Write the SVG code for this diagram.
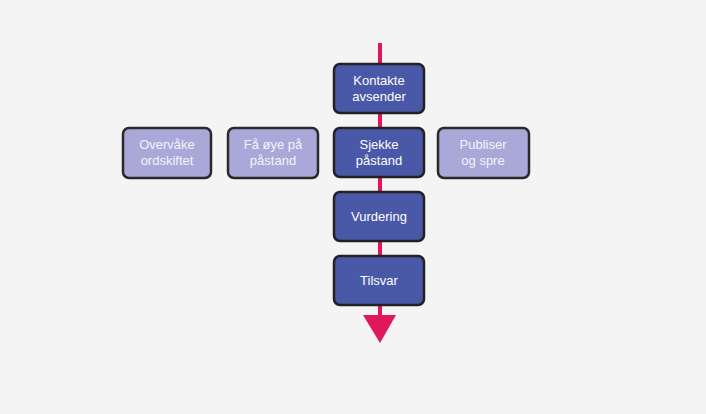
<svg xmlns="http://www.w3.org/2000/svg" width="706" height="414" viewBox="0 0 706 414">
<style>
.bg{fill:#f4f4f4}
.dark{fill:#4a58a8;stroke:#222;stroke-width:2.5}
.light{fill:#a9a8d9;stroke:#2a2a2a;stroke-width:2.5}
.t{font-family:"Liberation Sans",Arial,sans-serif;font-size:13px;fill:#fff;text-anchor:middle}
.lt{fill:#f4f4fa}
.flow{stroke:#e0185a;stroke-width:4;fill:none}
</style>
<rect class="bg" x="0" y="0" width="706" height="414"/>
<g id="connectors">
<line class="flow" x1="380" y1="43" x2="380" y2="316"/>
<polygon points="363,315 396,315 380,343" fill="#e0185a"/>
</g>
<g id="kontakte">
<rect class="dark" x="334" y="64" width="90" height="49" rx="6"/>
<text class="t" x="379" y="85">Kontakte</text>
<text class="t" x="379" y="101">avsender</text>
</g>
<g id="sjekke">
<rect class="dark" x="334" y="128" width="90" height="49" rx="6"/>
<text class="t" x="379" y="149">Sjekke</text>
<text class="t" x="379" y="165">påstand</text>
</g>
<g id="vurdering">
<rect class="dark" x="334" y="192" width="90" height="49" rx="6"/>
<text class="t" x="379" y="221">Vurdering</text>
</g>
<g id="tilsvar">
<rect class="dark" x="334" y="256" width="90" height="49" rx="6"/>
<text class="t" x="379" y="285">Tilsvar</text>
</g>
<g id="overvake">
<rect class="light" x="123" y="128" width="88" height="50" rx="6"/>
<text class="t lt" x="167" y="149">Overvåke</text>
<text class="t lt" x="167" y="165">ordskiftet</text>
</g>
<g id="faoye">
<rect class="light" x="228" y="128" width="90" height="50" rx="6"/>
<text class="t lt" x="273" y="149">Få øye på</text>
<text class="t lt" x="273" y="165">påstand</text>
</g>
<g id="publiser">
<rect class="light" x="438" y="128" width="91" height="50" rx="6"/>
<text class="t lt" x="483" y="149">Publiser</text>
<text class="t lt" x="483" y="165">og spre</text>
</g>
</svg>
